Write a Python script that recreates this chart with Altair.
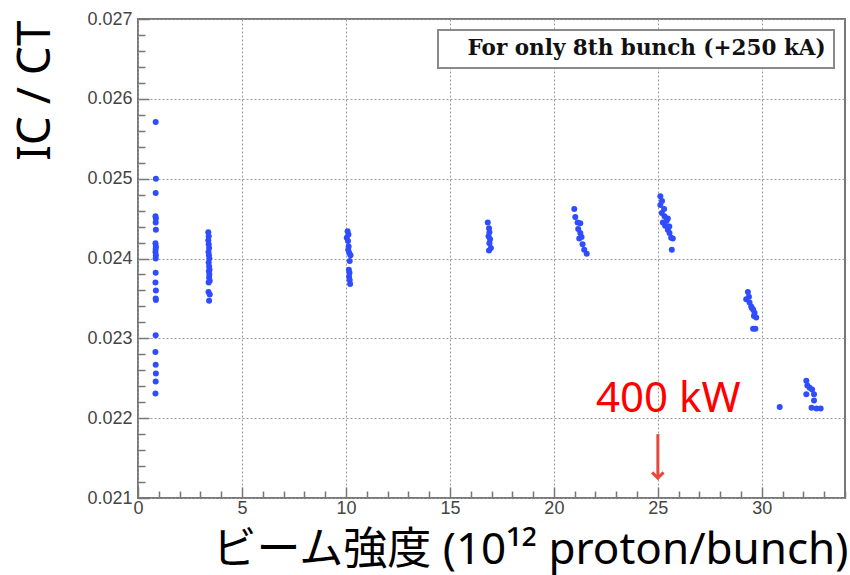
import altair as alt
import pandas as pd

SERIES = "For only 8th bunch (+250 kA)"

# Beam intensity (10^12 protons/bunch) and IC/CT ratio, one pair of lists per run
run1_x = [0.85, 0.86, 0.85, 0.84, 0.86, 0.85, 0.86, 0.84, 0.86, 0.85, 0.84, 0.86,
          0.85, 0.85, 0.84, 0.86, 0.85, 0.86, 0.85, 0.84, 0.85, 0.86, 0.85, 0.84]
run1_y = [0.02571, 0.02500, 0.02482, 0.02453, 0.02450, 0.02445, 0.02436, 0.02419,
          0.02415, 0.02412, 0.02408, 0.02404, 0.02400, 0.02382, 0.02370, 0.02360,
          0.02350, 0.02348, 0.02304, 0.02283, 0.02267, 0.02256, 0.02246, 0.02231]

run2_x = [3.38, 3.40, 3.38, 3.40, 3.42, 3.39, 3.41, 3.43, 3.40, 3.42, 3.44, 3.41,
          3.43, 3.42, 3.45, 3.40, 3.39, 3.45, 3.42]
run2_y = [0.02433, 0.02428, 0.02423, 0.02418, 0.02413, 0.02408, 0.02404, 0.02400,
          0.02395, 0.02390, 0.02386, 0.02384, 0.02380, 0.02376, 0.02372, 0.02370,
          0.02358, 0.02355, 0.02347]

run3_x = [10.08, 10.12, 10.04, 10.10, 10.13, 10.11, 10.16, 10.22, 10.18, 10.14,
          10.17, 10.15, 10.18, 10.20]
run3_y = [0.02434, 0.02430, 0.02426, 0.02422, 0.02415, 0.02411, 0.02407, 0.02404,
          0.02397, 0.02386, 0.02382, 0.02377, 0.02373, 0.02368]

run4_x = [16.82, 16.88, 16.90, 16.86, 16.93, 16.90, 16.97, 16.88]
run4_y = [0.02445, 0.02438, 0.02433, 0.02428, 0.02424, 0.02419, 0.02413, 0.02410]

run5_x = [20.98, 21.03, 21.14, 21.27, 21.17, 21.27, 21.22, 21.33, 21.38, 21.46, 21.58]
run5_y = [0.02462, 0.02452, 0.02445, 0.02444, 0.02437, 0.02432, 0.02425, 0.02427,
          0.02418, 0.02411, 0.02406]

run6_x = [25.12, 25.12, 25.19, 25.32, 25.48, 25.24, 25.35, 25.48, 25.56, 25.64,
          25.72, 25.67, 25.30, 25.42, 25.20, 25.55]
run6_y = [0.02478, 0.02467, 0.02457, 0.02453, 0.02450, 0.02445, 0.02441, 0.02436,
          0.02432, 0.02426, 0.02425, 0.02411, 0.02462, 0.02447, 0.02472, 0.02440]

run7_x = [29.33, 29.25, 29.41, 29.49, 29.58, 29.65, 29.62, 29.73, 29.69, 29.58,
          29.38, 29.52]
run7_y = [0.02358, 0.02349, 0.02345, 0.02340, 0.02336, 0.02332, 0.02328, 0.02326,
          0.02312, 0.02312, 0.02352, 0.02338]

run8_x = [30.86, 32.14, 32.19, 32.30, 32.42, 32.14, 32.51, 32.51, 32.39, 32.63, 32.83]
run8_y = [0.02214, 0.02247, 0.02241, 0.02238, 0.02236, 0.02230, 0.02230, 0.02222,
          0.02213, 0.02212, 0.02212]

# Axis ticks
x_major = [0, 5, 10, 15, 20, 25, 30]
x_minor = [v for v in range(1, 35) if v % 5 != 0]
y_major = [0.021, 0.022, 0.023, 0.024, 0.025, 0.026, 0.027]
y_minor = [round(0.021 + 0.0002 * i, 4) for i in range(1, 30) if i % 5 != 0]

# 400 kW operating point marker
marker_x = 25.0
marker_label = "400 kW"

xs = run1_x + run2_x + run3_x + run4_x + run5_x + run6_x + run7_x + run8_x
ys = run1_y + run2_y + run3_y + run4_y + run5_y + run6_y + run7_y + run8_y
points = pd.DataFrame({"intensity": xs, "ratio": ys, "series": SERIES})

arrow = pd.DataFrame({"x": [marker_x], "y0": [0.0218], "y1": [0.02125]})
label = pd.DataFrame({"x": [marker_x + 0.5], "y": [0.02224], "text": [marker_label]})

xscale = alt.Scale(domain=[0, 34], nice=False, zero=False)
yscale = alt.Scale(domain=[0.021, 0.027], nice=False, zero=False)

LABEL_FONT = "Liberation Sans"
TICK_COLOR = "#777777"
GRID = dict(grid=True, gridColor="#9a9a9a", gridDash=[2, 2], gridWidth=1)

x_axis_major = alt.Axis(
    orient="bottom", values=x_major, format="d", offset=-11, tickSize=11,
    tickColor=TICK_COLOR, tickWidth=1.5, domain=False, labelFlush=False,
    labelFont=LABEL_FONT, labelFontSize=18, labelColor="#454545", labelPadding=1,
    title="ビーム強度 (10¹² proton/bunch)", titleFont="'Noto Sans', 'Noto Sans CJK JP'",
    titleFontSize=44, titleFontWeight="normal", titleColor="#000000",
    titleAnchor="end", titleAlign="right", titleBaseline="middle",
    titleX=710, titleY=63, **GRID,
)
y_axis_major = alt.Axis(
    orient="left", values=y_major, format=".3f", offset=-11, tickSize=11,
    tickColor=TICK_COLOR, tickWidth=1.5, domain=False,
    labelFont=LABEL_FONT, labelFontSize=18, labelColor="#454545", labelPadding=6,
    title="IC / CT", titleFont="'Noto Sans'", titleFontSize=46,
    titleFontWeight="normal", titleColor="#000000", titleAngle=-90,
    titleAnchor="end", titleAlign="right", titleBaseline="middle",
    titleX=-114, titleY=1, **GRID,
)
x_axis_minor = alt.Axis(
    orient="bottom", values=x_minor, offset=-7, tickSize=7, tickColor=TICK_COLOR,
    tickWidth=1.5, domain=False, labels=False, grid=False, title="",
)
y_axis_minor = alt.Axis(
    orient="left", values=y_minor, offset=-7, tickSize=7, tickColor=TICK_COLOR,
    tickWidth=1.5, domain=False, labels=False, grid=False, title="",
)

dots = alt.Chart(points).mark_circle(size=36, opacity=1).encode(
    x=alt.X("intensity:Q", scale=xscale, axis=x_axis_major),
    y=alt.Y("ratio:Q", scale=yscale, axis=y_axis_major),
    color=alt.Color(
        "series:N",
        scale=alt.Scale(domain=[SERIES], range=["#2f4dff"]),
        legend=alt.Legend(
            title=None, orient="top-right", offset=11, symbolSize=0,
            symbolStrokeWidth=0, symbolOpacity=0, labelOffset=0, labelLimit=1000,
            labelFont="DejaVu Serif", labelFontWeight="bold", labelFontSize=21.5,
            labelColor="#111111", strokeColor="#8a8a8a",
            fillColor="#ffffff", padding=8,
        ),
    ),
)

minor = alt.Chart(points).mark_circle(opacity=0).encode(
    x=alt.X("intensity:Q", scale=xscale, axis=x_axis_minor),
    y=alt.Y("ratio:Q", scale=yscale, axis=y_axis_minor),
)

shaft = alt.Chart(arrow).mark_rule(color="#e8493c", strokeWidth=3).encode(
    x=alt.X("x:Q", scale=xscale, axis=None),
    y=alt.Y("y0:Q", scale=yscale, axis=None),
    y2="y1:Q",
)
head = alt.Chart(arrow).mark_point(
    shape="M -1 -1 L 0 0 L 1 -1", filled=False, size=130, strokeWidth=3,
    color="#e8493c", opacity=1,
).encode(
    x=alt.X("x:Q", scale=xscale, axis=None),
    y=alt.Y("y1:Q", scale=yscale, axis=None),
)
kw_text = alt.Chart(label).mark_text(
    font="Noto Sans", fontSize=42, color="#ff0000", align="center", baseline="middle",
).encode(
    x=alt.X("x:Q", scale=xscale, axis=None),
    y=alt.Y("y:Q", scale=yscale, axis=None),
    text="text:N",
)

chart = (
    alt.layer(dots, minor, shaft, head, kw_text)
    .resolve_axis(x="independent", y="independent")
    .properties(
        width=707, height=479,
        autosize=alt.AutoSizeParams(type="none"),
        padding={"left": 138, "top": 19, "right": 5, "bottom": 77},
        background="#ffffff",
    )
    .configure_view(stroke="#777777", strokeWidth=2)
    .configure_legend(strokeWidth=2, symbolSize=0, labelOffset=0)
)

chart.save("out.html", embed_options={"renderer": "svg", "actions": False})
